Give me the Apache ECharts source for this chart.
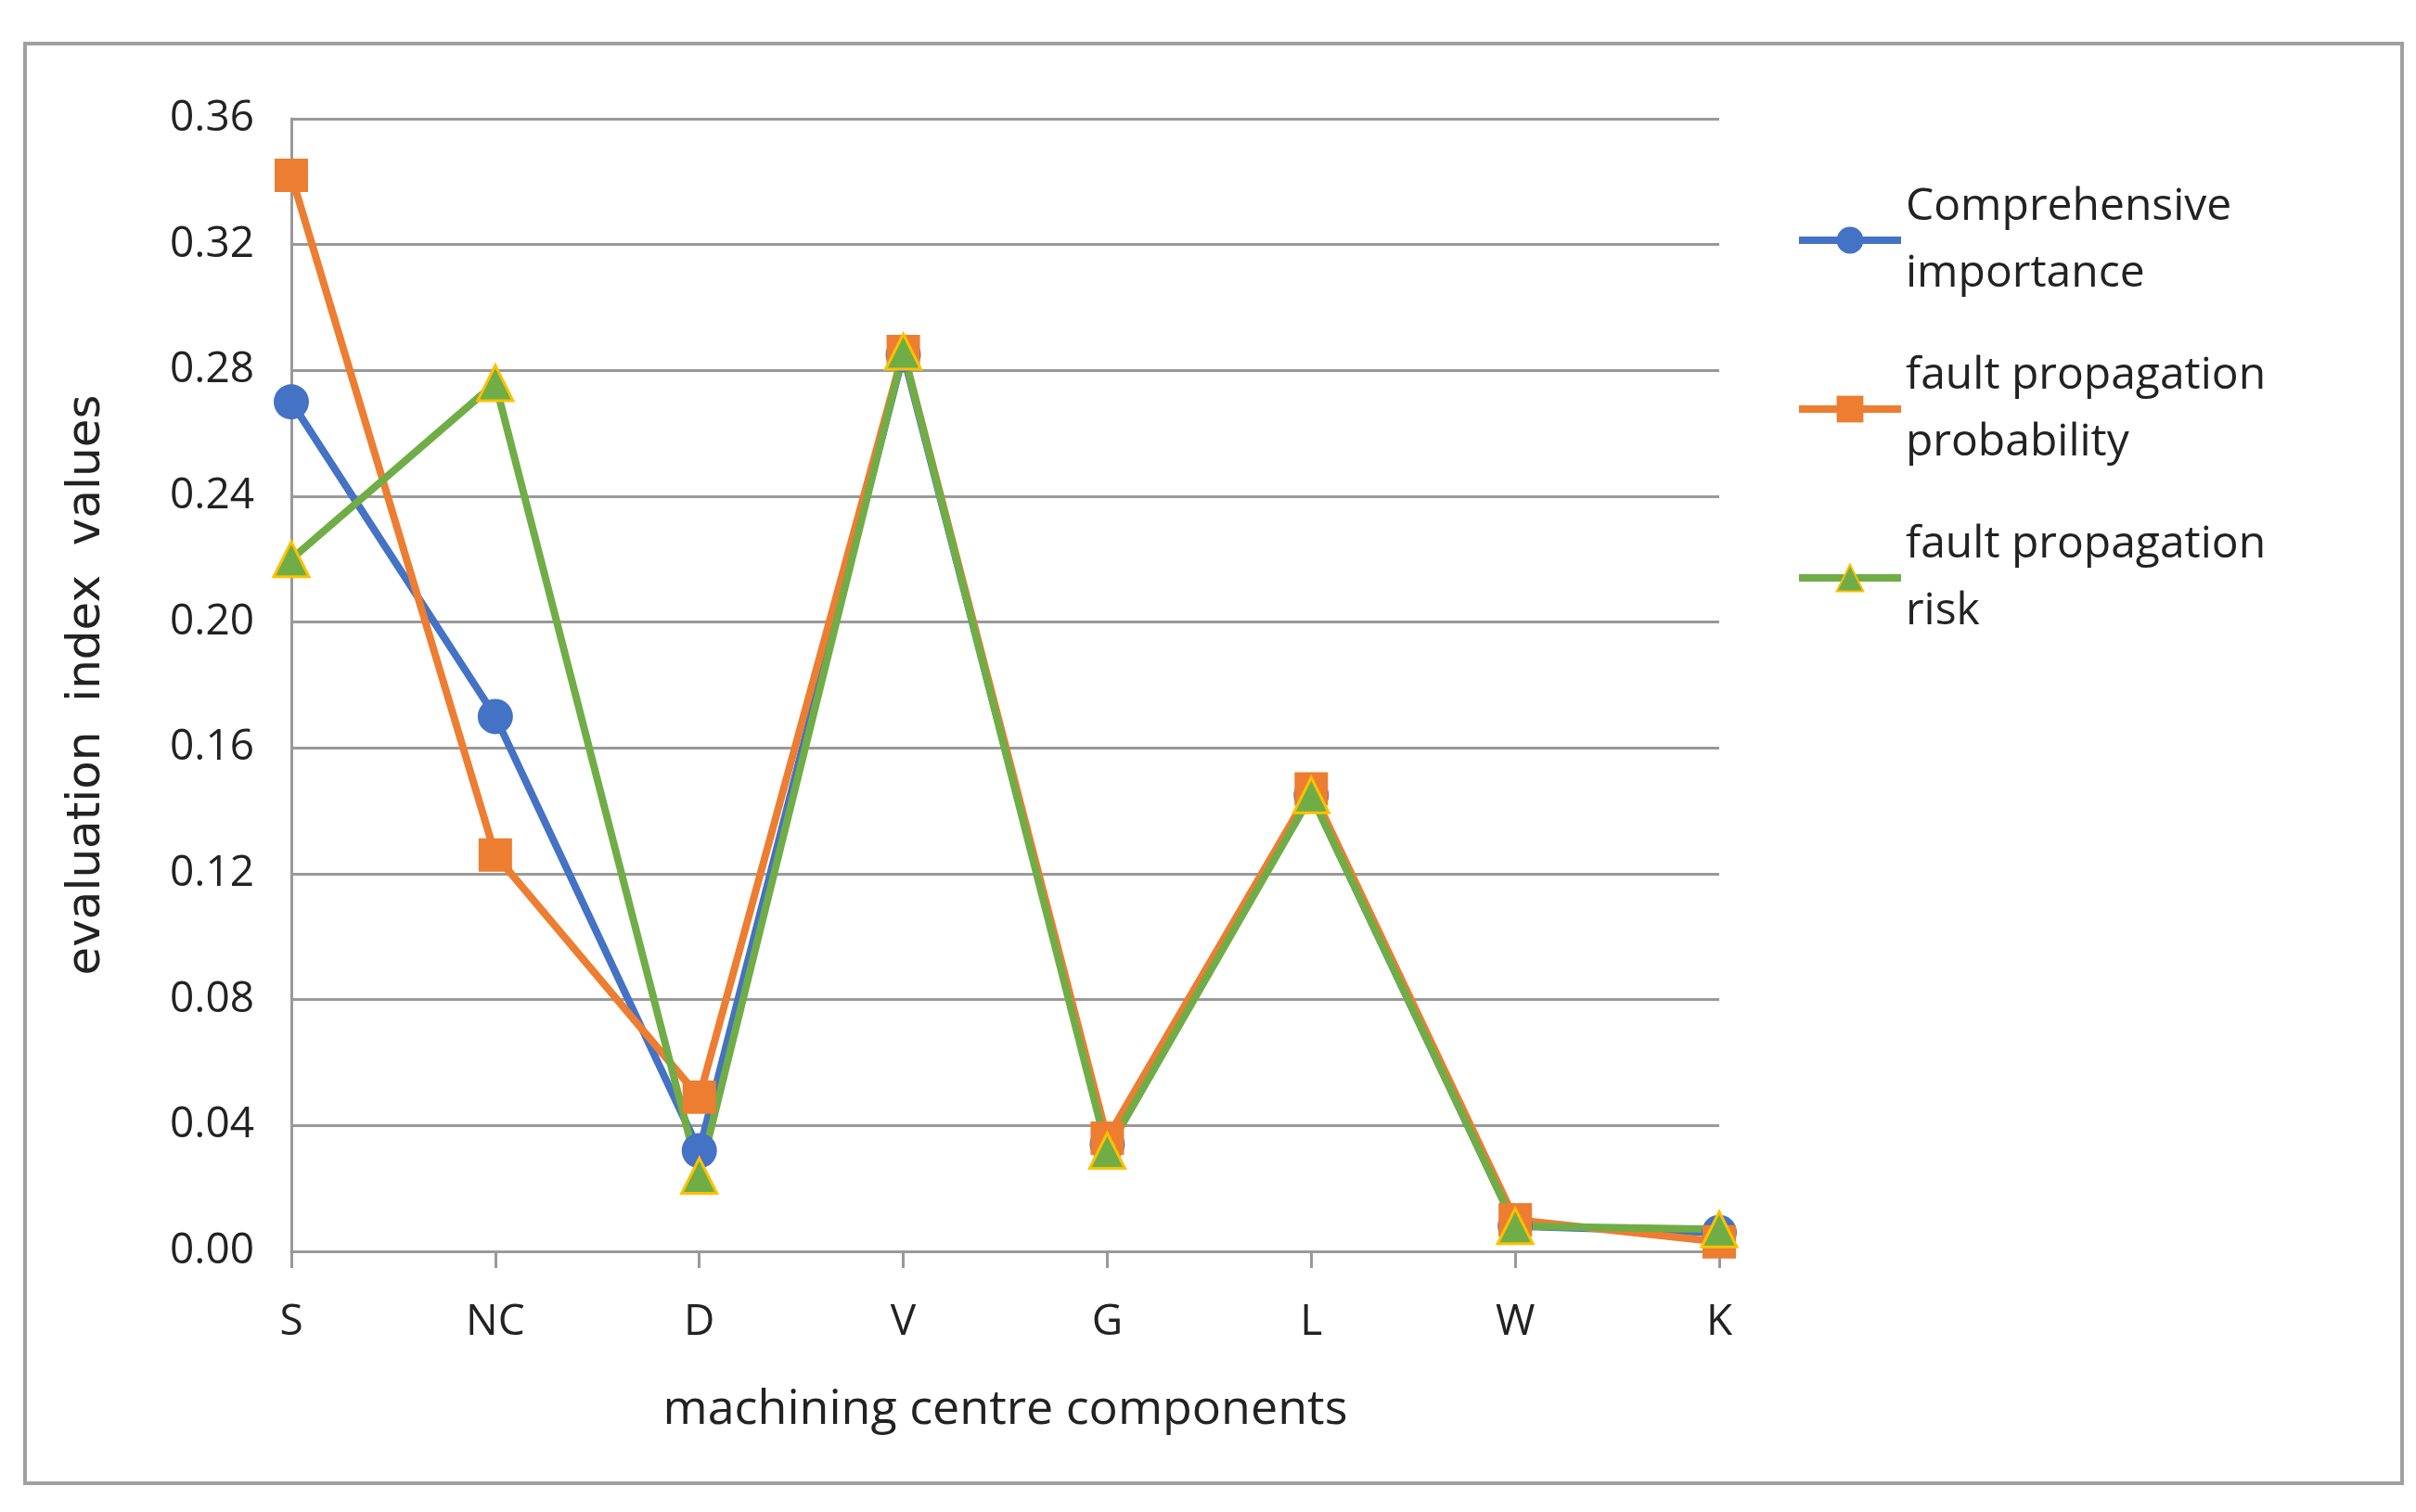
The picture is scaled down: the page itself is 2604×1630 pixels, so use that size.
<!DOCTYPE html>
<html>
<head>
<meta charset="utf-8">
<script src="https://cdn.jsdelivr.net/npm/echarts@6/dist/echarts.min.js"></script>
<style>
  html, body { margin: 0; background: #fff; }
  #frame { position: absolute; left: 25px; top: 45px; width: 2558px; height: 1548px; border: 4px solid #a0a0a0; }
  #chart { width: 2604px; height: 1630px; position: absolute; left: 0; top: 0; }
</style>
</head>
<body>
<div id="frame"></div>
<div id="chart"></div>
<script>
const categories = ["S", "NC", "D", "V", "G", "L", "W", "K"];
const importance = [0.27, 0.17, 0.032, 0.285, 0.034, 0.145, 0.008, 0.006];
const probability = [0.342, 0.126, 0.049, 0.286, 0.036, 0.147, 0.010, 0.003];
const risk = [0.22, 0.276, 0.024, 0.286, 0.032, 0.145, 0.008, 0.007];

const font = "'Open Sans', 'Noto Sans', sans-serif";
const chart = echarts.init(document.getElementById("chart"));

const line = (name, data, color, symbol, size, borderColor) => ({
  name, type: "line", data, symbol, symbolSize: size,
  lineStyle: { color, width: 8 },
  itemStyle: { color, borderColor: borderColor || color, borderWidth: borderColor ? 3 : 0 },
  emphasis: { disabled: true }
});

chart.setOption({
  animation: false,
  grid: { left: 314, right: 751, top: 128, bottom: 281, containLabel: false },
  legend: {
    orient: "vertical", left: 1930, top: 182, itemGap: 38,
    itemWidth: 110, itemHeight: 36,
    lineStyle: { width: 8 },
    textStyle: { fontFamily: font, fontSize: 48, color: "#222", lineHeight: 72 },
    data: [
      { name: "Comprehensive\nimportance" },
      { name: "fault propagation\nprobability" },
      { name: "fault propagation\nrisk" }
    ]
  },
  xAxis: {
    type: "category", data: categories, boundaryGap: false,
    name: "machining centre components", nameLocation: "middle", nameGap: 145,
    nameTextStyle: { fontFamily: font, fontSize: 52, color: "#222" },
    axisLine: { lineStyle: { color: "#999", width: 3 } },
    axisTick: { show: true, length: 18, lineStyle: { color: "#999", width: 3 } },
    axisLabel: { fontFamily: font, fontSize: 46, color: "#222", margin: 54 }
  },
  yAxis: {
    type: "value", min: 0, max: 0.36, interval: 0.04,
    name: "evaluation  index  values", nameLocation: "middle", nameGap: 195,
    nameTextStyle: { fontFamily: "'DejaVu Sans', sans-serif", fontSize: 50, color: "#222" },
    axisLine: { show: true, lineStyle: { color: "#999", width: 3 } },
    axisLabel: { fontFamily: font, fontSize: 46, color: "#222", margin: 40,
      formatter: v => v.toFixed(2) },
    splitLine: { lineStyle: { color: "#999", width: 3 } }
  },
  series: [
    line("Comprehensive\nimportance", importance, "#4472C4", "circle", 38),
    line("fault propagation\nprobability", probability, "#ED7D31", "rect", 36),
    line("fault propagation\nrisk", risk, "#70AD47", "triangle", 38, "#FFC000")
  ]
});
</script>
</body>
</html>
